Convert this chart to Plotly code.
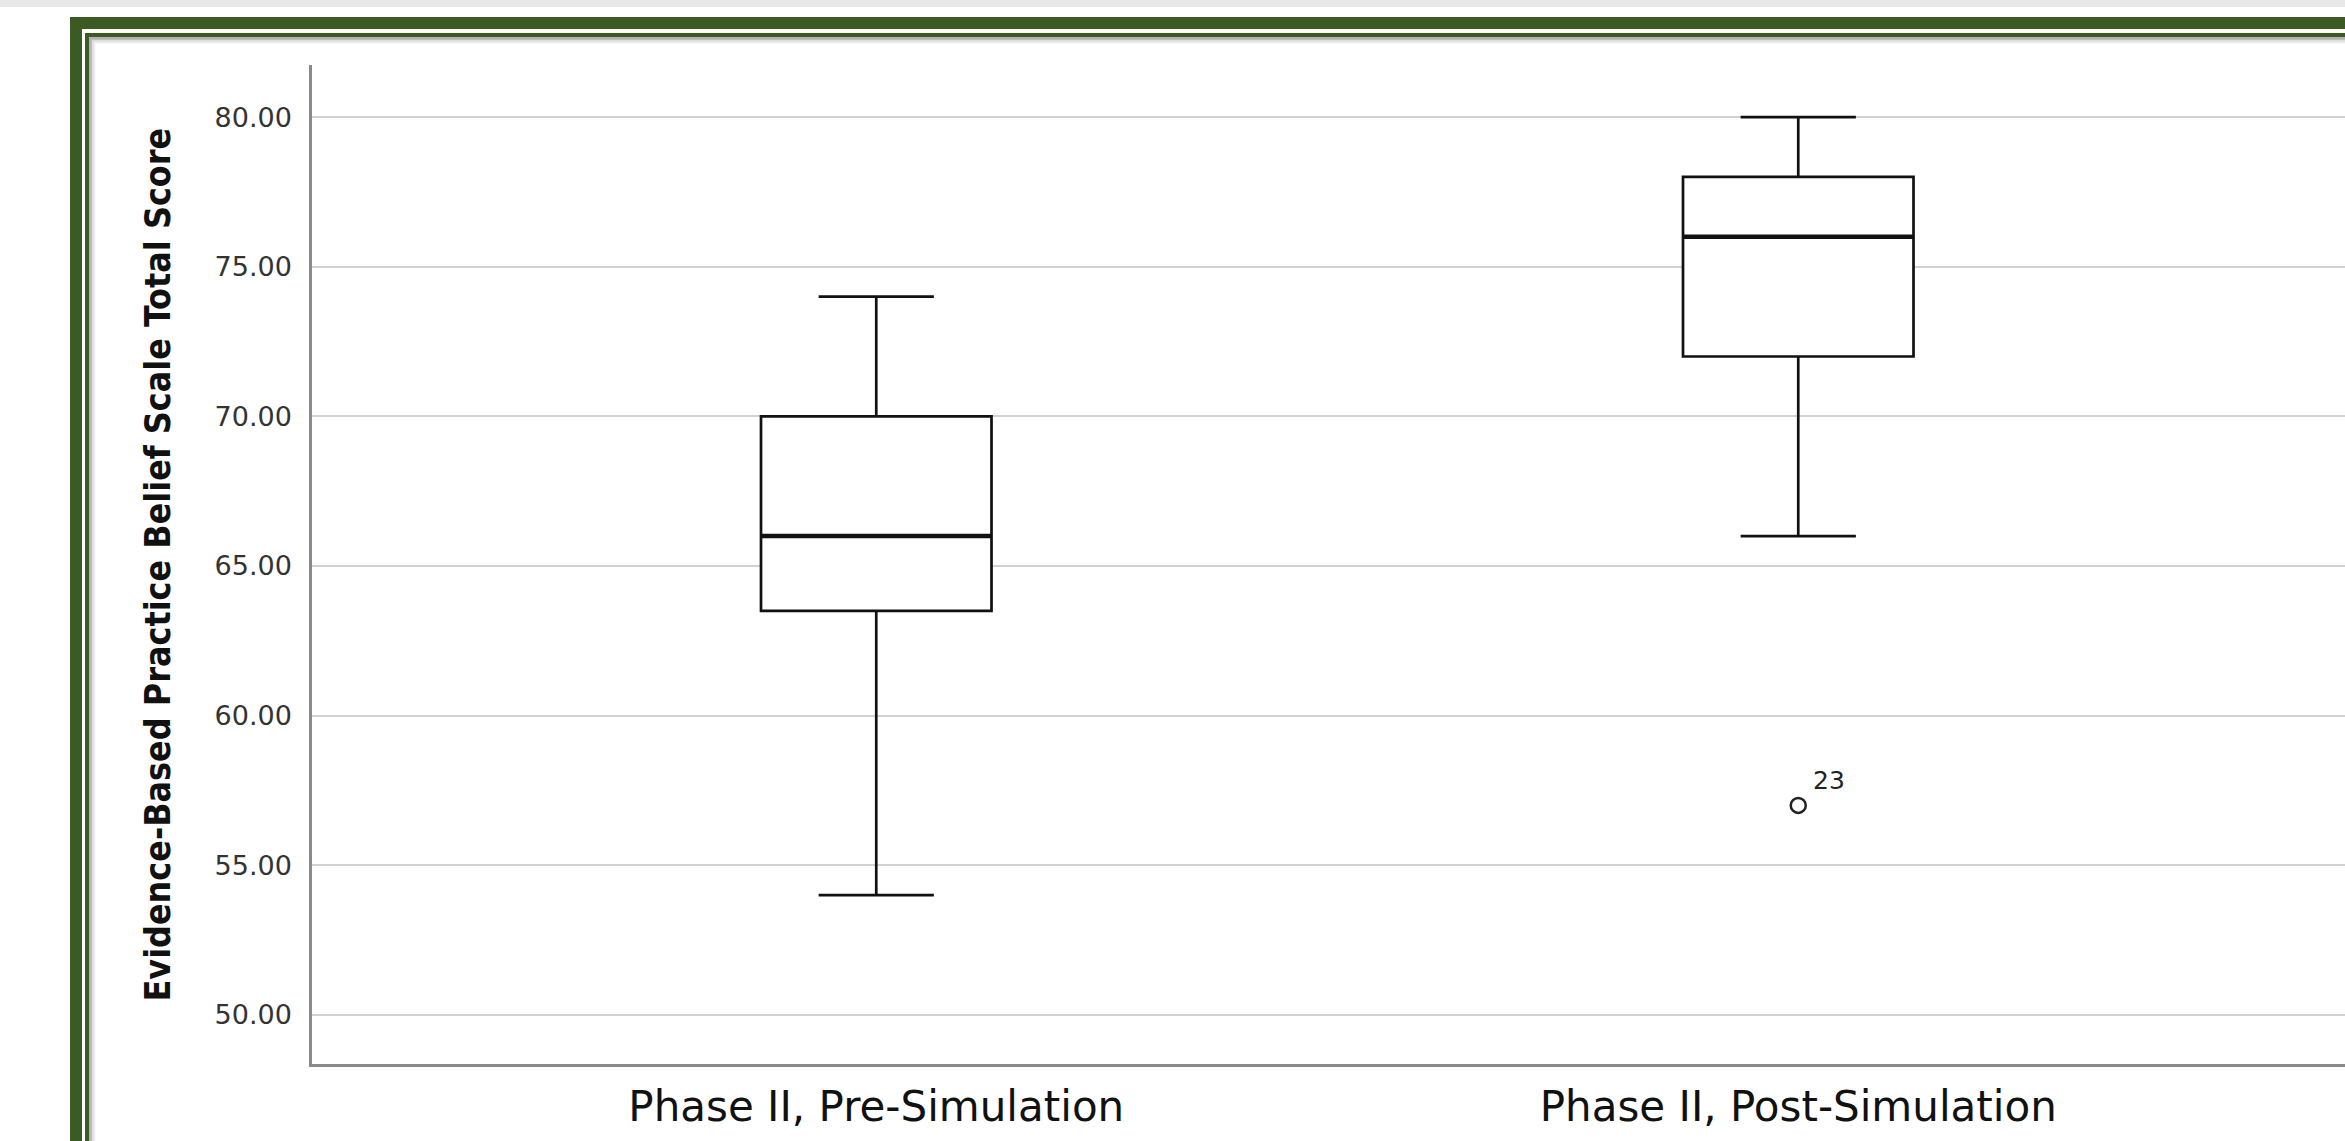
import plotly.graph_objects as go

# ---- data ----
categories = ["Phase II, Pre-Simulation", "Phase II, Post-Simulation"]
q1 = [63.5, 72.0]
median = [66.0, 76.0]
q3 = [70.0, 78.0]
lower_whisker = [54.0, 66.0]
upper_whisker = [74.0, 80.0]
outlier_category = ["Phase II, Post-Simulation"]
outlier_value = [57.0]
outlier_label = ["23"]
y_ticks = [50, 55, 60, 65, 70, 75, 80]
y_title = "Evidence-Based Practice Belief Scale Total Score"

W, H = 2345, 1141
ML, MT, MB = 312, 65, 77
PW = W - ML
PH = H - MT - MB

def px_x(p):
    return (p - ML) / PW

def px_y(p):
    return (H - MB - p) / PH

BOX_W = 0.25
fig = go.Figure()
fig.add_trace(go.Box(
    x=categories, q1=q1, median=median, q3=q3,
    lowerfence=lower_whisker, upperfence=upper_whisker,
    width=BOX_W, whiskerwidth=0.5,
    fillcolor="white", line=dict(color="#111111", width=2.7),
    boxpoints=False, hoverinfo="skip", showlegend=False,
))
fig.add_trace(go.Scatter(
    x=outlier_category, y=outlier_value, mode="markers",
    marker=dict(symbol="circle-open", size=15, color="#222222", line=dict(width=2.5)),
    showlegend=False, hoverinfo="skip",
))

shapes = []
# thicker median lines
for i, m in enumerate(median):
    shapes.append(dict(type="line", xref="x", yref="y", x0=i - BOX_W / 2, x1=i + BOX_W / 2,
                       y0=m, y1=m, line=dict(color="#111111", width=4.5), layer="above"))

# decorative frame
green = "#3b5b23"
shapes.append(dict(type="rect", xref="paper", yref="paper", x0=px_x(0), x1=px_x(W + 50),
                   y0=px_y(0), y1=px_y(7), fillcolor="#e8e8e8", line=dict(width=0), layer="below"))
shapes.append(dict(type="rect", xref="paper", yref="paper", x0=px_x(76), x1=px_x(W + 60),
                   y0=px_y(23), y1=px_y(H + 60), line=dict(color=green, width=12), layer="below"))
shapes.append(dict(type="rect", xref="paper", yref="paper", x0=px_x(87), x1=px_x(W + 60),
                   y0=px_y(35), y1=px_y(H + 60), line=dict(color=green, width=4), layer="below"))
for k, c in enumerate(["#9a9a9a", "#bdbdbd", "#d9d9d9", "#ececec"]):
    off = 90 + k * 1.5
    shapes.append(dict(type="rect", xref="paper", yref="paper", x0=px_x(off), x1=px_x(W + 60),
                       y0=px_y(off - 52), y1=px_y(H + 60), line=dict(color=c, width=1.5), layer="below"))

annotations = []
for c, v, t in zip(outlier_category, outlier_value, outlier_label):
    annotations.append(dict(x=c, y=v, xref="x", yref="y", text=t, showarrow=False,
                            xshift=31, yshift=25, font=dict(family="DejaVu Sans", size=25, color="#222222")))
annotations.append(dict(x=px_x(157), y=0.5, xref="paper", yref="paper", text="<b>" + y_title + "</b>",
                        textangle=-90, showarrow=False, xanchor="center", yanchor="middle",
                        font=dict(family="DejaVu Sans Condensed, Liberation Sans Narrow, sans-serif", size=35.5, color="#111111")))

fig.update_layout(
    width=W, height=H,
    margin=dict(l=ML, r=0, t=MT, b=MB, pad=0),
    paper_bgcolor="white", plot_bgcolor="white",
    shapes=shapes, annotations=annotations,
    xaxis=dict(
        type="category", categoryorder="array", categoryarray=categories,
        range=[-0.612, 1.593], showgrid=False, zeroline=False,
        showline=True, linecolor="#8a8a8a", linewidth=2.5,
        ticks="", tickfont=dict(family="DejaVu Sans", size=42, color="#111111"),
        ticklabelstandoff=4,
    ),
    yaxis=dict(
        range=[48.36, 81.74], tickvals=y_ticks, tickformat=".2f",
        showgrid=True, gridcolor="#d2d2d2", gridwidth=2, zeroline=False,
        showline=True, linecolor="#8a8a8a", linewidth=2.5,
        ticks="", tickfont=dict(family="DejaVu Sans", size=27, color="#333333"),
        ticklabelstandoff=12,
    ),
)

fig.write_html("out.html", config={"displayModeBar": False},
               post_script="document.body.style.margin='0';document.body.style.overflow='hidden';")
